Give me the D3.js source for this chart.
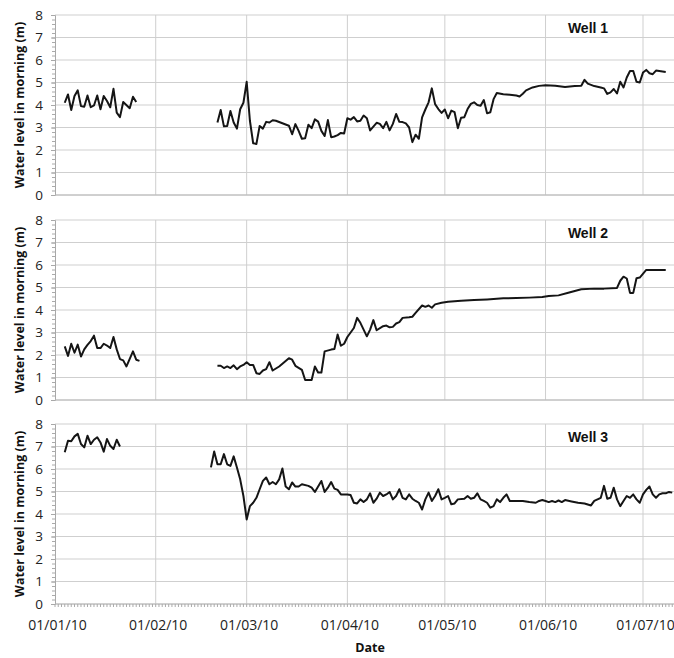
<!DOCTYPE html>
<html>
<head>
<meta charset="utf-8">
<script src="https://cdn.jsdelivr.net/npm/d3@7"></script>
<style>
  body { margin: 0; background: #fff; }
  svg { display: block; }
</style>
</head>
<body>
<script>
// Width and height of svg
var w = 674;
var h = 658;

// days counted from 01/01/10, null splits the line where readings are missing
var well1Days = [3,4,5,6,7,8,9,10,11,12,13,14,15,16,17,18,19,20,21,23,24,25,
  37,
  50,51,52,53,54,55,56,57,58,59,60,61,62,63,64,65,66,67,68,72,73,74,75,76,77,78,79,80,
  81,82,83,84,85,86,87,88,89,90,91,92,93,94,95,96,97,99,100,101,102,103,104,105,106,107,
  108,109,110,111,112,113,114,115,116,117,118,119,120,121,122,123,124,125,126,127,128,129,
  130,131,132,133,134,135,136,138,140,142,143,144,145,147,149,151,154,157,160,162,163,164,
  166,168,169,170,171,172,173,174,175,176,177,178,179,180,181,182,183,184,185,186,188];
var well1Level = [4.10,4.47,3.78,4.40,4.65,3.95,3.92,4.42,3.90,3.98,4.42,3.81,4.40,4.18,3.90,4.72,3.66,3.46,4.13,3.86,4.37,4.13,
  null,
  3.22,3.78,3.05,3.07,3.73,3.22,2.95,3.81,4.10,5.03,3.30,2.30,2.27,3.07,2.95,3.25,3.22,3.32,3.30,3.08,2.70,3.15,2.85,2.50,2.52,3.12,2.97,3.36,
  3.26,2.85,2.62,3.33,2.57,2.60,2.66,2.76,2.73,3.41,3.35,3.46,3.27,3.30,3.53,3.41,2.87,3.21,3.16,2.97,3.25,2.87,3.16,3.60,3.25,3.24,
  3.18,3.00,2.35,2.68,2.50,3.45,3.80,4.12,4.74,4.04,3.82,3.65,3.80,3.41,3.75,3.68,2.97,3.43,3.46,3.82,4.05,4.12,
  4.00,3.97,4.22,3.63,3.68,4.26,4.53,4.48,4.46,4.42,4.38,4.50,4.65,4.78,4.85,4.88,4.86,4.80,4.84,4.86,5.12,4.95,
  4.84,4.78,4.74,4.49,4.56,4.71,4.51,5.03,4.78,5.22,5.51,5.51,5.03,5.00,5.44,5.56,5.41,5.37,5.53,5.51,5.47];

var well2Days = [3,4,5,6,7,8,9,10,11,12,13,14,15,16,17,18,19,20,21,22,24,25,26,
  37,
  50,51,52,53,54,55,56,57,58,59,60,61,62,63,64,65,66,67,69,72,73,74,76,77,79,80,81,82,83,85,86,87,
  88,89,90,92,93,94,96,97,98,99,101,102,103,104,105,106,107,109,110,111,113,114,115,116,117,119,121,
  125,129,133,138,142,146,150,152,155,158,162,166,169,173,174,175,176,177,178,179,180,182,184,188];
var well2Level = [2.38,1.96,2.50,2.10,2.46,1.93,2.25,2.45,2.62,2.86,2.31,2.31,2.50,2.42,2.31,2.80,2.25,1.82,1.76,1.49,2.16,1.79,1.74,
  null,
  1.52,1.52,1.42,1.49,1.42,1.54,1.37,1.49,1.56,1.68,1.56,1.56,1.19,1.16,1.31,1.37,1.68,1.31,1.49,1.86,1.79,1.52,1.34,0.89,0.89,1.49,1.22,1.22,2.16,2.24,2.27,2.91,
  2.41,2.50,2.80,3.20,3.65,3.43,2.83,3.13,3.55,3.10,3.28,3.31,3.23,3.25,3.40,3.46,3.65,3.68,3.70,3.87,4.20,4.14,4.20,4.10,4.25,4.32,4.37,
  4.41,4.44,4.47,4.52,4.53,4.55,4.58,4.62,4.65,4.77,4.92,4.95,4.95,4.98,5.30,5.48,5.40,4.76,4.76,5.41,5.44,5.78,5.78,5.78];

var well3Days = [3,4,5,6,7,8,9,10,11,12,13,14,15,16,17,18,19,20,
  34,
  48,49,50,51,52,53,54,55,56,57,58,59,60,61,62,63,64,65,66,67,68,69,70,71,72,73,74,75,76,78,79,80,
  81,82,83,84,85,86,87,88,90,91,92,93,94,95,96,97,98,99,100,101,102,103,104,105,106,107,108,109,110,
  111,112,113,114,115,116,117,118,119,120,121,122,123,124,126,127,128,129,130,131,132,133,134,135,136,
  137,138,139,140,142,144,146,148,149,150,151,152,153,154,155,156,157,159,161,163,165,166,167,168,169,
  170,171,172,173,174,175,176,177,178,179,180,181,182,183,184,185,186,187,188,189,190];
var well3Level = [6.74,7.26,7.23,7.45,7.56,7.11,6.96,7.48,7.11,7.30,7.41,7.18,6.77,7.33,7.03,6.89,7.30,7.00,
  null,
  6.07,6.78,6.21,6.21,6.66,6.21,6.14,6.56,6.07,5.54,4.80,3.76,4.35,4.50,4.72,5.10,5.47,5.62,5.32,5.42,5.32,5.54,6.02,5.22,5.10,5.40,5.22,5.22,5.32,5.25,5.17,4.98,
  5.22,5.47,4.98,5.17,5.42,5.13,5.07,4.87,4.87,4.84,4.50,4.47,4.65,4.53,4.65,4.92,4.50,4.68,4.95,4.80,4.87,4.98,4.65,4.80,5.10,4.72,4.65,4.87,4.68,
  4.58,4.50,4.20,4.65,4.95,4.58,4.80,5.10,4.65,4.72,4.80,4.43,4.47,4.65,4.68,4.80,4.68,4.72,4.92,4.65,4.58,4.50,4.28,4.35,4.65,
  4.53,4.72,4.87,4.58,4.58,4.58,4.53,4.50,4.58,4.62,4.58,4.53,4.58,4.53,4.60,4.53,4.62,4.56,4.50,4.47,4.38,4.58,4.65,4.72,5.25,
  4.68,4.72,5.17,4.65,4.35,4.58,4.80,4.72,4.87,4.65,4.50,4.87,5.07,5.22,4.87,4.72,4.87,4.92,4.92,4.98,4.95];

var wellNames = ["Well 1", "Well 2", "Well 3"];
var yTicks = [0, 1, 2, 3, 4, 5, 6, 7, 8];

var wells = [
  {name: wellNames[0], days: well1Days, level: well1Level},
  {name: wellNames[1], days: well2Days, level: well2Level},
  {name: wellNames[2], days: well3Days, level: well3Level}
];

var start = new Date(Date.UTC(2010, 0, 1));
var left = 55;
var panelTops = [15, 220, 424];
var panelH = 180;

//Create SVG element
var svg = d3.select("body")
  .append("svg")
  .attr("width", w)
  .attr("height", h);

svg.append("defs").append("clipPath")
  .attr("id", "plotclip")
  .append("rect")
  .attr("x", left).attr("y", -5)
  .attr("width", w - left).attr("height", panelH + 10);

// time scale, 01/01/10 sits on the axis, 01/07/10 near the right edge
var x = d3.scaleUtc()
  .domain([start, new Date(Date.UTC(2010, 6, 1))])
  .range([left, 643]);

var months = d3.utcMonth.range(start, new Date(Date.UTC(2010, 6, 2)));
var allDays = d3.utcDay.range(start, new Date(Date.UTC(2010, 6, 11)));

var y = d3.scaleLinear().domain([0, 8]).range([panelH, 0]);

var line = d3.line()
  .defined(function(d) { return d.v != null; })
  .x(function(d) { return x(d.date); })
  .y(function(d) { return y(d.v); });

var gridColor = "#cfcfcf";
var labelFont = "'Open Sans', sans-serif";

wells.forEach(function(well, i) {
  var g = svg.append("g").attr("transform", "translate(0," + panelTops[i] + ")");

  // horizontal grid lines
  g.selectAll(".hgrid")
    .data(yTicks)
    .enter().append("line")
    .attr("x1", left).attr("x2", w)
    .attr("y1", function(d) { return y(d); })
    .attr("y2", function(d) { return y(d); })
    .attr("stroke", gridColor)
    .attr("stroke-width", 1);

  // vertical grid lines, one per month
  g.selectAll(".vgrid")
    .data(months.slice(1))
    .enter().append("line")
    .attr("x1", function(d) { return x(d); })
    .attr("x2", function(d) { return x(d); })
    .attr("y1", 0).attr("y2", panelH)
    .attr("stroke", gridColor)
    .attr("stroke-width", 1);

  // minor y ticks
  g.append("g")
    .attr("transform", "translate(" + left + ",0)")
    .call(d3.axisLeft(y).ticks(40).tickSize(3).tickFormat(""))
    .call(function(a) { a.selectAll("line").attr("stroke", "#aaa"); a.select(".domain").remove(); });

  // y axis with labels
  var ya = g.append("g")
    .attr("transform", "translate(" + left + ",0)")
    .call(d3.axisLeft(y).tickValues(yTicks).tickSize(4).tickPadding(8).tickFormat(d3.format("d")));
  ya.select(".domain").attr("stroke", "#a8a8a8");
  ya.selectAll(".tick line").attr("stroke", "#a8a8a8");
  ya.selectAll("text")
    .attr("font-family", labelFont)
    .attr("font-size", 13.5)
    .attr("fill", "#222");

  // bottom line of panel
  g.append("line")
    .attr("x1", left).attr("x2", w)
    .attr("y1", panelH).attr("y2", panelH)
    .attr("stroke", "#b8b8b8");

  // y axis title
  g.append("text")
    .attr("transform", "translate(24," + (panelH / 2) + ") rotate(-90)")
    .attr("text-anchor", "middle")
    .attr("font-family", labelFont)
    .attr("font-size", 12.5)
    .attr("font-weight", "bold")
    .attr("fill", "#111")
    .text("Water level in morning (m)");

  // well name
  g.append("text")
    .attr("x", 588)
    .attr("y", 18)
    .attr("text-anchor", "middle")
    .attr("font-family", "'Liberation Sans', Arial, sans-serif")
    .attr("font-size", 14)
    .attr("font-weight", "bold")
    .attr("fill", "#111")
    .text(well.name);

  var pts = well.days.map(function(d, k) {
    return {date: d3.utcDay.offset(start, d), v: well.level[k]};
  });

  g.append("path")
    .datum(pts)
    .attr("clip-path", "url(#plotclip)")
    .attr("d", line)
    .attr("fill", "none")
    .attr("stroke", "#151515")
    .attr("stroke-width", 2)
    .attr("stroke-linejoin", "round");

  // date axis only under the last panel
  if (i == wells.length - 1) {
    var xa = g.append("g")
      .attr("transform", "translate(0," + panelH + ")");
    xa.selectAll(".dtick")
      .data(allDays)
      .enter().append("line")
      .attr("x1", function(d) { return x(d); })
      .attr("x2", function(d) { return x(d); })
      .attr("y1", 0).attr("y2", 3)
      .attr("stroke", "#aaa");
    xa.call(d3.axisBottom(x).tickValues(months).tickSize(0).tickPadding(16).tickFormat(d3.utcFormat("%d/%m/%y")))
      .select(".domain").remove();
    xa.selectAll("text")
      .attr("font-family", labelFont)
      .attr("font-size", 14)
      .attr("fill", "#222")
      .attr("dx", 2);
  }
});

// x axis title
svg.append("text")
  .attr("x", 370)
  .attr("y", 652)
  .attr("text-anchor", "middle")
  .attr("font-family", labelFont)
  .attr("font-size", 12.5)
  .attr("font-weight", "bold")
  .attr("fill", "#111")
  .text("Date");
</script>
</body>
</html>
